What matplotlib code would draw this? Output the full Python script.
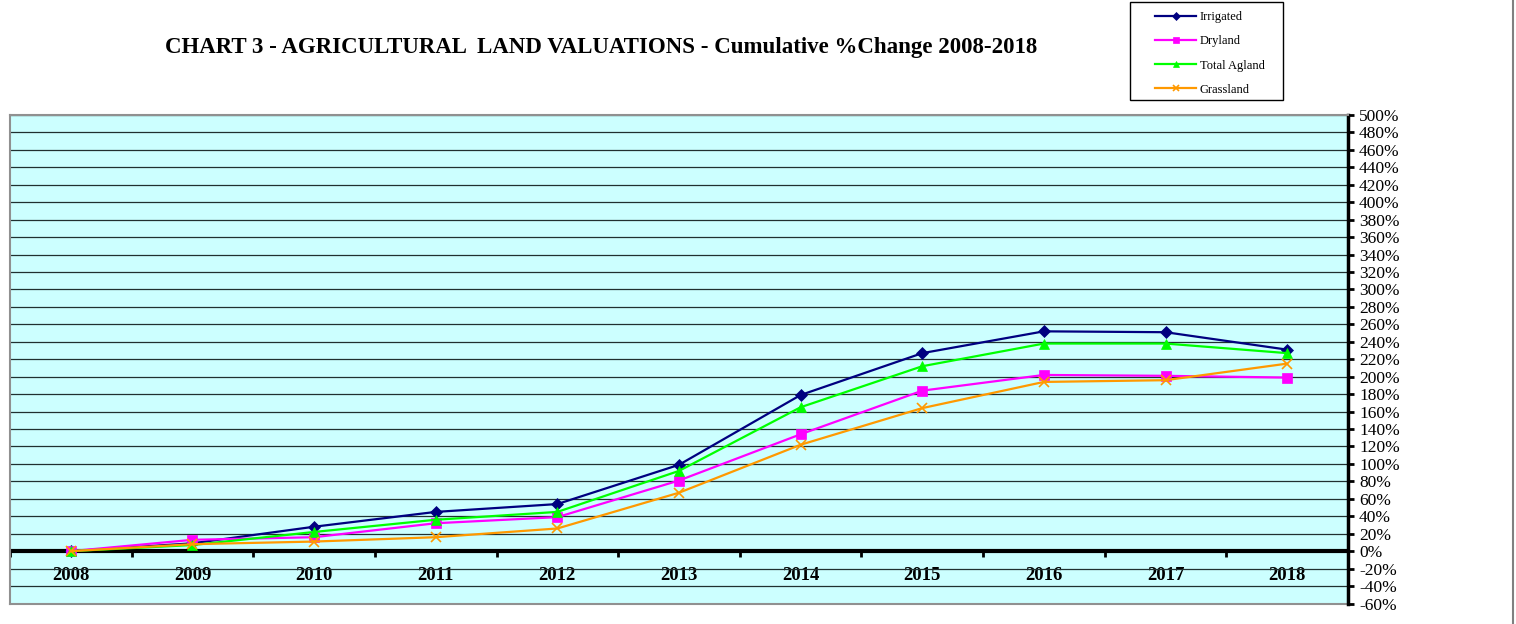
import numpy as np
import matplotlib
matplotlib.use("Agg")
import matplotlib.pyplot as plt
from matplotlib.ticker import FixedLocator, FuncFormatter
from matplotlib.lines import Line2D
from matplotlib.patches import Rectangle

plt.rcParams['font.family'] = ['Liberation Serif', 'DejaVu Serif']

years = ['2008', '2009', '2010', '2011', '2012', '2013', '2014', '2015', '2016', '2017', '2018']
irrigated = [0, 9, 28, 45, 54, 99, 179, 227, 252, 251, 231]
dryland = [0, 13, 16, 32, 39, 81, 134, 184, 202, 201, 199]
total_agland = [0, 7, 22, 36, 45, 92, 165, 212, 238, 238, 227]
grassland = [0, 8, 11, 16, 26, 67, 122, 164, 194, 196, 215]

series = [
    ('Irrigated', irrigated, '#000080', 'D', 6),
    ('Dryland', dryland, '#FF00FF', 's', 7),
    ('Total Agland', total_agland, '#00FF00', '^', 7),
    ('Grassland', grassland, '#FF9900', 'x', 7),
]

fig = plt.figure(figsize=(15.16, 6.24), dpi=100)
ax = fig.add_axes([10 / 1516, 1 - 603.5 / 624, 1338 / 1516, 488.5 / 624])
ax.set_facecolor('#CCFFFF')

x = np.arange(len(years))
for name, vals, col, mk, ms in series:
    ax.plot(x, vals, color=col, lw=1.6, marker=mk, markersize=ms,
            markeredgewidth=1.2 if mk == 'x' else 0.5, label=name, zorder=3)

ax.set_xlim(-0.5, len(years) - 0.5)
ax.set_ylim(-60, 500)

# horizontal gridlines every 20%
ax.yaxis.set_major_locator(FixedLocator(np.arange(-60, 501, 20)))
ax.yaxis.grid(True, color='#203030', lw=0.9)
ax.set_axisbelow(True)
ax.axhline(0, color='black', lw=3, zorder=2)

# right axis
ax.yaxis.tick_right()
ax.yaxis.set_major_formatter(FuncFormatter(lambda v, p: '%d%%' % v))
ax.tick_params(axis='y', direction='out', length=4, width=2, labelsize=12.5, pad=4)

# x axis sits on the zero line
ax.spines['bottom'].set_position(('data', 0))
ax.spines['bottom'].set_visible(False)
ax.set_xticks(x)
ax.set_xticklabels(years, fontweight='bold', fontsize=13.5)
ax.set_xticks(np.arange(-0.5, len(years), 1), minor=True)
ax.tick_params(axis='x', which='major', length=0, pad=11.5)
ax.tick_params(axis='x', which='minor', direction='out', length=4, width=2, color='black')

ax.spines['right'].set_color('black')
ax.spines['right'].set_linewidth(2.5)
for s in ['left', 'top']:
    ax.spines[s].set_color('#909090')
    ax.spines[s].set_linewidth(1.5)

# bottom border of plot area
ax.add_line(Line2D([0, 1], [0, 0], transform=ax.transAxes, color='#909090', lw=1.5, clip_on=False))

fig.text(601 / 1516, 1 - 48 / 624, 'CHART 3 - AGRICULTURAL  LAND VALUATIONS - Cumulative %Change 2008-2018',
         ha='center', va='center', fontsize=16.5, fontweight='bold')

# legend box drawn separately so the entries can sit with wide margins
fig.add_artist(Rectangle((1130 / 1516, 1 - 100 / 624), 153 / 1516, 98 / 624,
                         transform=fig.transFigure, facecolor='white', edgecolor='black', lw=1.0))
leg = fig.legend(loc='upper left', bbox_to_anchor=(1150 / 1516, 1 - 6 / 624), fontsize=9,
                 frameon=False, handlelength=3.3, handletextpad=0.3, labelspacing=0.98,
                 borderpad=0.4, borderaxespad=0, markerscale=0.7)

# right border of the chart area
fig.add_artist(Line2D([1513 / 1516, 1513 / 1516], [0, 1], transform=fig.transFigure, color='#808080', lw=1.5))

fig.savefig('out.png', dpi=100)
